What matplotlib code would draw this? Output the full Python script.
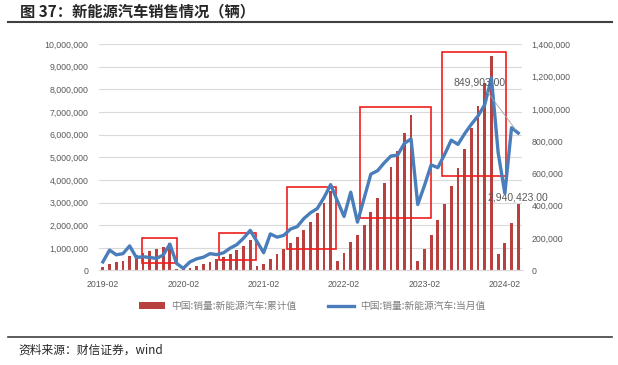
import matplotlib
matplotlib.use("Agg")
import matplotlib.pyplot as plt
from matplotlib.patches import Rectangle, Patch
from matplotlib.lines import Line2D
from matplotlib.ticker import FuncFormatter

plt.rcParams['font.family'] = ['Noto Sans CJK SC', 'DejaVu Sans']

# 月份: 2019-02 ... 2024-04
months = ([f"2019-{m:02d}" for m in range(2, 13)]
          + [f"{y}-{m:02d}" for y in range(2020, 2024) for m in range(1, 13)]
          + [f"2024-{m:02d}" for m in range(1, 5)])

# 中国:销量:新能源汽车:当月值 (辆)
monthly_2019 = [53000, 126000, 97000, 104000, 152000, 80000, 85000, 80000, 75000, 95000, 163000]
monthly_2020 = [44000, 13000, 53000, 72000, 82000, 104000, 98000, 109000, 138000, 160000, 200000, 248000]
monthly_2021 = [179000, 110000, 226000, 206000, 217000, 256000, 271000, 321000, 357000, 383000, 450000, 531000]
monthly_2022 = [431000, 334000, 484000, 299000, 447000, 596000, 617000, 666000, 708000, 714000, 786000, 814000]
monthly_2023 = [408000, 525000, 653000, 636000, 717000, 806000, 780000, 846000, 904000, 956000, 1026000, 1191000]
monthly_2024 = [729000, 477000, 883000, 849903]

# 中国:销量:新能源汽车:累计值 (辆)
cum_2019 = [150000, 300000, 370000, 410000, 620000, 700000, 790000, 880000, 950000, 1040000, 1200000]
cum_2020 = [44000, 57000, 114000, 186000, 268000, 385000, 486000, 596000, 734000, 894000, 1095000, 1367000]
cum_2021 = [179000, 289000, 515000, 721000, 950000, 1206000, 1478000, 1799000, 2157000, 2541000, 2990000, 3521000]
cum_2022 = [431000, 765000, 1249000, 1548000, 1995000, 2600000, 3194000, 3860000, 4567000, 5280000, 6067000, 6887000]
cum_2023 = [408000, 933000, 1586000, 2222000, 2940000, 3747000, 4526000, 5372000, 6278000, 7280000, 8304000, 9495000]
cum_2024 = [729000, 1207000, 2090000, 2940423]

monthly = monthly_2019 + monthly_2020 + monthly_2021 + monthly_2022 + monthly_2023 + monthly_2024
cumulative = cum_2019 + cum_2020 + cum_2021 + cum_2022 + cum_2023 + cum_2024

tick_labels = ["2019-02", "2020-02", "2021-02", "2022-02", "2023-02", "2024-02"]

# 红框 (月份序号, 左轴数值)
boxes = [(5.8, 0.33e6, 11.0, 1.43e6),
         (17.3, 0.46e6, 22.8, 1.66e6),
         (27.5, 0.95e6, 34.8, 3.69e6),
         (38.4, 2.32e6, 49.0, 7.22e6),
         (50.6, 4.17e6, 60.1, 9.65e6)]

x = list(range(len(months)))
grey = '#595959'

fig = plt.figure(figsize=(6.18, 3.65), dpi=100)
ax = fig.add_axes([0.161, 0.259, 0.683, 0.62])
ax2 = ax.twinx()

ax.bar(x, cumulative, width=0.42, color='#B8403E', zorder=2)
ax2.plot(x, monthly, color='#4A7EBB', lw=2.4, solid_joinstyle='round', zorder=3)

for x0, y0, x1, y1 in boxes:
    ax.add_patch(Rectangle((x0, y0), x1 - x0, y1 - y0, fill=False,
                           edgecolor='#F01E1E', lw=1.2, zorder=4))

ax.set_xlim(-0.5, len(months) - 0.5)
ax.set_ylim(0, 10_000_000)
ax2.set_ylim(0, 1_400_000)
ax.set_yticks(range(0, 10_000_001, 1_000_000))
ax2.set_yticks(range(0, 1_400_001, 200_000))
fmt = FuncFormatter(lambda v, p: f"{v:,.0f}")
ax.yaxis.set_major_formatter(fmt)
ax2.yaxis.set_major_formatter(fmt)
ax.set_xticks([months.index(t) for t in tick_labels])
ax.set_xticklabels(tick_labels)

ax.yaxis.grid(True, color='#D9D9D9', lw=0.8, zorder=0)
ax.set_axisbelow(True)
for a in (ax, ax2):
    for s in ('top', 'left', 'right'):
        a.spines[s].set_visible(False)
    a.spines['bottom'].set_color('#D9D9D9')
ax.tick_params(axis='y', length=0, pad=8, labelsize=6.3, labelcolor=grey)
ax2.tick_params(axis='y', length=0, pad=7, labelsize=6.3, labelcolor=grey)
ax.tick_params(axis='x', length=0, pad=7, labelsize=6.3, labelcolor=grey)
for lab in ax.get_yticklabels() + ax2.get_yticklabels() + ax.get_xticklabels():
    lab.set_fontfamily('Liberation Sans')

ax2.annotate(f"{monthly[-1]:,.2f}", xy=(x[-1], monthly[-1]), xytext=(56.3, 1.165e6),
             ha='center', va='center', fontsize=7.5, color=grey, family='Liberation Sans',
             arrowprops=dict(arrowstyle='-', color='#A6A6A6', lw=0.6, shrinkB=3))
ax.annotate(f"{cumulative[-1]:,.2f}", xy=(x[-1], cumulative[-1]), xytext=(0, 4.5),
            textcoords='offset points', ha='center', va='center', fontsize=7.5,
            color=grey, family='Liberation Sans')

handles = [Patch(facecolor='#B8403E', edgecolor='none'),
           Line2D([0], [0], color='#4A7EBB', lw=2.4)]
fig.legend(handles, ["中国:销量:新能源汽车:累计值", "中国:销量:新能源汽车:当月值"],
           loc='center', bbox_to_anchor=(0.505, 0.162), ncol=2, frameon=False,
           fontsize=7, labelcolor='#7F7F7F', handlelength=2.7, handleheight=0.6,
           handletextpad=0.6, columnspacing=3.3)

fig.text(20 / 618, 1 - 11 / 365, "图 37：新能源汽车销售情况（辆）", fontsize=11,
         fontweight='bold', color='#262626', va='center', ha='left')
fig.add_artist(Line2D([8 / 618, 612 / 618], [1 - 22 / 365, 1 - 22 / 365],
                      color='#404040', lw=1.5))
fig.add_artist(Line2D([8 / 618, 612 / 618], [1 - 337 / 365, 1 - 337 / 365],
                      color='#404040', lw=1.2))
fig.text(18 / 618, 1 - 350 / 365, "资料来源：财信证券，wind", fontsize=8.5,
         style='italic', color='#262626', va='center', ha='left')

fig.savefig("out.png", dpi=100)
